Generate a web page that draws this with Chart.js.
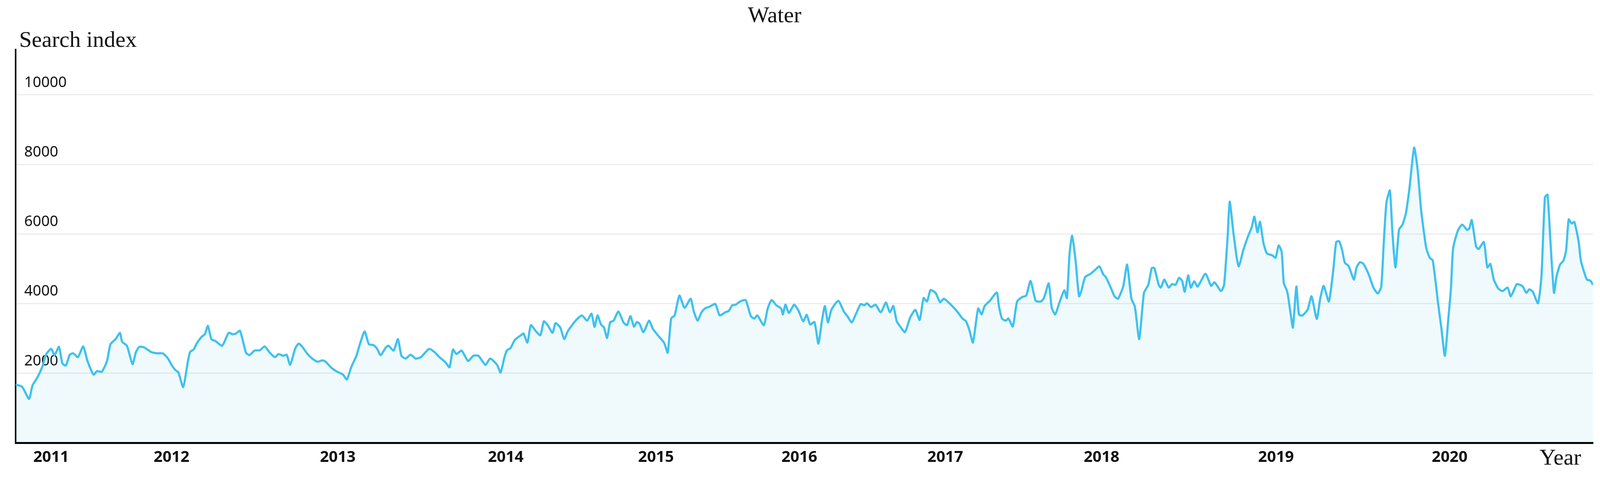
<!DOCTYPE html>
<html>
<head>
<meta charset="utf-8">
<title>Water</title>
<script src="https://cdn.jsdelivr.net/npm/chart.js@4.4.1/dist/chart.umd.min.js"></script>
<style>
  html, body { margin: 0; padding: 0; background: #fff; }
  #chart { display: block; }
</style>
</head>
<body>
<canvas id="chart" width="4108" height="1237"></canvas>
<script>
// texts
const chartTitle = "Water";
const yTitle = "Search index";
const xTitle = "Year";

// y ticks
const yTicks = [2000, 4000, 6000, 8000, 10000];

// year labels and where they sit on the day axis
const yearLabels = ["2011", "2012", "2013", "2014", "2015", "2016", "2017", "2018", "2019", "2020"];
const yearTickDays = [82, 360, 744, 1132, 1479, 1810, 2147, 2508, 2911, 3312];

// days since the first sample
const days = [
  0, 15, 31, 39, 50, 62, 70, 82, 90, 100, 108, 116, 125, 133, 144, 156, 166, 180, 188, 199,
  211, 219, 231, 241, 246, 257, 270, 278, 286, 297, 313, 329, 340, 352, 360, 369, 376, 387, 398, 403,
  411, 419, 430, 437, 444, 452, 462, 477, 492, 501, 509, 518, 526, 532, 540, 552, 564, 575, 587, 599,
  607, 618, 626, 634, 646, 654, 662, 673, 685, 697, 709, 716, 728, 740, 756, 765, 775, 787, 795, 806,
  816, 826, 834, 843, 854, 861, 873, 883, 891, 901, 912, 924, 936, 955, 967, 979, 993, 1002, 1010, 1018,
  1030, 1045, 1057, 1069, 1085, 1096, 1112, 1120, 1129, 1135, 1143, 1153, 1167, 1173, 1182, 1190, 1202,
  1212, 1220, 1229, 1240, 1247, 1258, 1267, 1275, 1290, 1298, 1308, 1320, 1330, 1337, 1344, 1352, 1359, 1366, 1373, 1381,
  1392, 1404, 1412, 1420, 1428, 1435, 1441, 1450, 1463, 1472, 1486, 1498, 1506, 1514, 1522, 1533, 1545, 1559, 1566, 1575,
  1584, 1592, 1604, 1616, 1626, 1639, 1647, 1655, 1663, 1673, 1686, 1698, 1706, 1713, 1728, 1737, 1746, 1757, 1768, 1772,
  1778, 1786, 1798, 1808, 1819, 1827, 1835, 1845, 1854, 1862, 1869, 1876, 1884, 1900, 1913, 1921, 1931, 1941, 1952, 1960,
  1966, 1976, 1986, 1998, 2010, 2019, 2027, 2035, 2043, 2054, 2066, 2078, 2088, 2097, 2105, 2113, 2125, 2135, 2144, 2160,
  2176, 2187, 2195, 2203, 2211, 2223, 2231, 2238, 2250, 2266, 2271, 2278, 2287, 2293, 2303, 2313, 2325, 2334, 2344, 2356,
  2368, 2375, 2386, 2393, 2401, 2411, 2422, 2428, 2434, 2440,
  2448, 2456, 2462, 2470, 2483, 2495, 2503, 2512, 2518, 2530, 2538, 2546, 2558, 2567, 2577, 2585, 2595, 2606, 2616, 2624,
  2630, 2640, 2645, 2653, 2663, 2671, 2679, 2687, 2694, 2700, 2708, 2714, 2722, 2730, 2748, 2761, 2769, 2784, 2791, 2799,
  2804, 2812, 2820, 2825, 2835, 2845, 2855, 2861, 2868, 2874, 2882, 2890, 2902, 2910, 2917, 2924, 2929, 2937, 2945, 2950,
  2958, 2964, 2972, 2984, 2993, 3005, 3013, 3021, 3033, 3043, 3050, 3057, 3064, 3070, 3078, 3083, 3091, 3097, 3105, 3113,
  3125, 3136, 3146, 3154, 3160, 3166, 3174, 3180, 3187, 3195, 3203, 3211, 3219, 3230, 3238, 3246, 3258, 3266, 3273, 3285,
  3293, 3301, 3309, 3315, 3320, 3331, 3341, 3352, 3357, 3363, 3373, 3379, 3391, 3399, 3406, 3414, 3424, 3434, 3446, 3453,
  3467, 3474, 3481, 3489, 3496, 3504, 3516, 3524, 3532, 3538, 3545, 3553, 3559, 3567, 3575, 3581, 3587, 3594, 3600, 3610,
  3615, 3623, 3629, 3637, 3643
];

const searchIndex = [
  1670, 1610, 1260, 1650, 1870, 2200, 2530, 2700, 2520, 2760, 2280, 2220, 2530, 2570, 2460, 2770, 2350, 1960, 2060, 2040,
  2350, 2830, 2980, 3160, 2900, 2790, 2260, 2610, 2760, 2740, 2610, 2570, 2570, 2420, 2240, 2090, 2020, 1600, 2350, 2610,
  2680, 2870, 3050, 3120, 3360, 2980, 2920, 2790, 3160, 3120, 3140, 3220, 2870, 2590, 2520, 2650, 2660, 2770, 2590, 2460,
  2550, 2500, 2530, 2240, 2720, 2850, 2760, 2570, 2420, 2330, 2370, 2330, 2170, 2060, 1960, 1820, 2170, 2500, 2830, 3200,
  2830, 2810, 2720, 2520, 2720, 2790, 2650, 2980, 2500, 2420, 2530, 2420, 2460, 2700, 2610, 2460, 2310, 2170, 2680, 2550,
  2650, 2350, 2500, 2500, 2240, 2420, 2240, 2020, 2460, 2660, 2720, 2960, 3090, 3140, 2880, 3380, 3200,
  3090, 3490, 3380, 3160, 3440, 3310, 2980, 3200, 3460, 3570, 3660, 3510, 3710, 3330, 3660, 3400, 3310, 3010, 3460, 3510,
  3770, 3460, 3380, 3640, 3340, 3470, 3420, 3180, 3510, 3270, 3050, 2870, 2590, 3570, 3660, 4230, 3880, 4140, 3790, 3510,
  3750, 3860, 3920, 3990, 3660, 3750, 3790, 3950, 3970, 4060, 4100, 3640, 3570, 3660, 3380, 3860, 4100, 3950, 3860, 3690,
  3970, 3730, 3970, 3800, 3490, 3680, 3400, 3470, 2850, 3490, 3930, 3460, 3820, 4080, 3770, 3640, 3460, 3710, 3990, 3950,
  4010, 3900, 3970, 3750, 4030, 3750, 3930, 3490, 3340, 3180, 3600, 3820, 3530, 4160, 4060, 4390, 4300, 4040, 4140, 3970,
  3750, 3570, 3490, 3230, 2880, 3860, 3690, 3930, 4080, 4320, 3930, 3570, 3510, 3570, 3340, 4060, 4190, 4230, 4650, 4080,
  4060, 4160, 4580, 3880, 3690, 4040, 4380, 4160, 5410, 5950,
  5240, 4210, 4390, 4760, 4860, 4990, 5070, 4840, 4760, 4440, 4210, 4140, 4490, 5120, 4140, 3910, 2980, 4310, 4540, 5020,
  5020, 4540, 4460, 4690, 4460, 4560, 4540, 4740, 4660, 4340, 4810, 4460, 4640, 4490, 4860, 4510, 4610, 4360, 4540, 5890,
  6930, 6100, 5340, 5070, 5520, 5890, 6200, 6500, 6050, 6350, 5740, 5440, 5390, 5320, 5670, 5490, 4590, 4340, 3680, 3310,
  4490, 3680, 3660, 3830, 4210, 3560, 4140, 4510, 4060, 4940, 5770, 5790, 5520, 5170, 5090, 4940, 4690, 5040, 5190, 5140,
  4840, 4460, 4290, 4490, 5790, 6900, 7250, 6000, 5040, 6120, 6270, 6600, 7300, 8480, 7850, 6700, 5590, 5320, 5240, 4040,
  3280, 2500, 3580, 4440, 5590, 6100, 6270, 6120, 6150, 6400, 5640, 5570, 5770, 5040, 5140, 4690, 4440, 4360, 4460, 4210,
  4560, 4540, 4490, 4310, 4410, 4340, 4010, 4790, 7050, 7130, 5740, 4310, 4790, 5120, 5240, 5540, 6420, 6300, 6350, 5770,
  5240, 4890, 4690, 4660, 4540
];

// free texts placed around the plot area
const textPlugin = {
  id: 'freeTexts',
  afterDraw(chart) {
    const ctx = chart.ctx;
    const area = chart.chartArea;
    ctx.save();
    ctx.fillStyle = '#111';
    ctx.font = '58px "Liberation Serif", "Times New Roman", serif';
    ctx.textBaseline = 'alphabetic';
    ctx.textAlign = 'center';
    ctx.fillText(chartTitle, (area.left + area.right) / 2 - 76, 57);
    ctx.textAlign = 'left';
    ctx.fillText(yTitle, area.left + 9, area.top - 7);
    ctx.fillText(xTitle, area.right - 137, area.bottom + 56);
    ctx.restore();
  }
};

const ctx = document.getElementById('chart');
new Chart(ctx, {
  type: 'line',
  data: {
    datasets: [{
      data: days.map((d, i) => ({ x: d, y: searchIndex[i] })),
      borderColor: '#3fc1ef',
      borderWidth: 5.5,
      backgroundColor: 'rgba(70, 190, 235, 0.08)',
      fill: 'origin',
      pointRadius: 0,
      tension: 0.2
    }]
  },
  options: {
    responsive: false,
    animation: false,
    devicePixelRatio: 1,
    layout: { padding: { left: -4, right: 30, top: 127, bottom: 27 } },
    plugins: {
      legend: { display: false },
      tooltip: { enabled: false }
    },
    scales: {
      x: {
        type: 'linear',
        min: 0,
        max: 3643,
        afterBuildTicks: (scale) => {
          scale.ticks = yearTickDays.map(v => ({ value: v }));
        },
        grid: { display: false, drawTicks: false },
        border: { display: true, color: '#000', width: 5 },
        ticks: {
          autoSkip: false,
          maxRotation: 0,
          padding: 14,
          color: '#111',
          font: { family: '"Noto Sans", sans-serif', size: 40, weight: 'bold' },
          callback: (v) => {
            const i = yearTickDays.indexOf(v);
            return i >= 0 ? yearLabels[i] : '';
          }
        }
      },
      y: {
        min: 0,
        max: 11300,
        afterBuildTicks: (scale) => {
          scale.ticks = yTicks.map(v => ({ value: v }));
        },
        grid: { color: '#ececec', lineWidth: 3, drawTicks: false },
        border: { display: true, color: '#000', width: 4 },
        ticks: {
          mirror: true,
          padding: 22,
          labelOffset: -31,
          color: '#111',
          font: { family: '"Noto Sans", sans-serif', size: 38 },
          callback: (v) => String(v)
        }
      }
    }
  },
  plugins: [textPlugin]
});
</script>
</body>
</html>
